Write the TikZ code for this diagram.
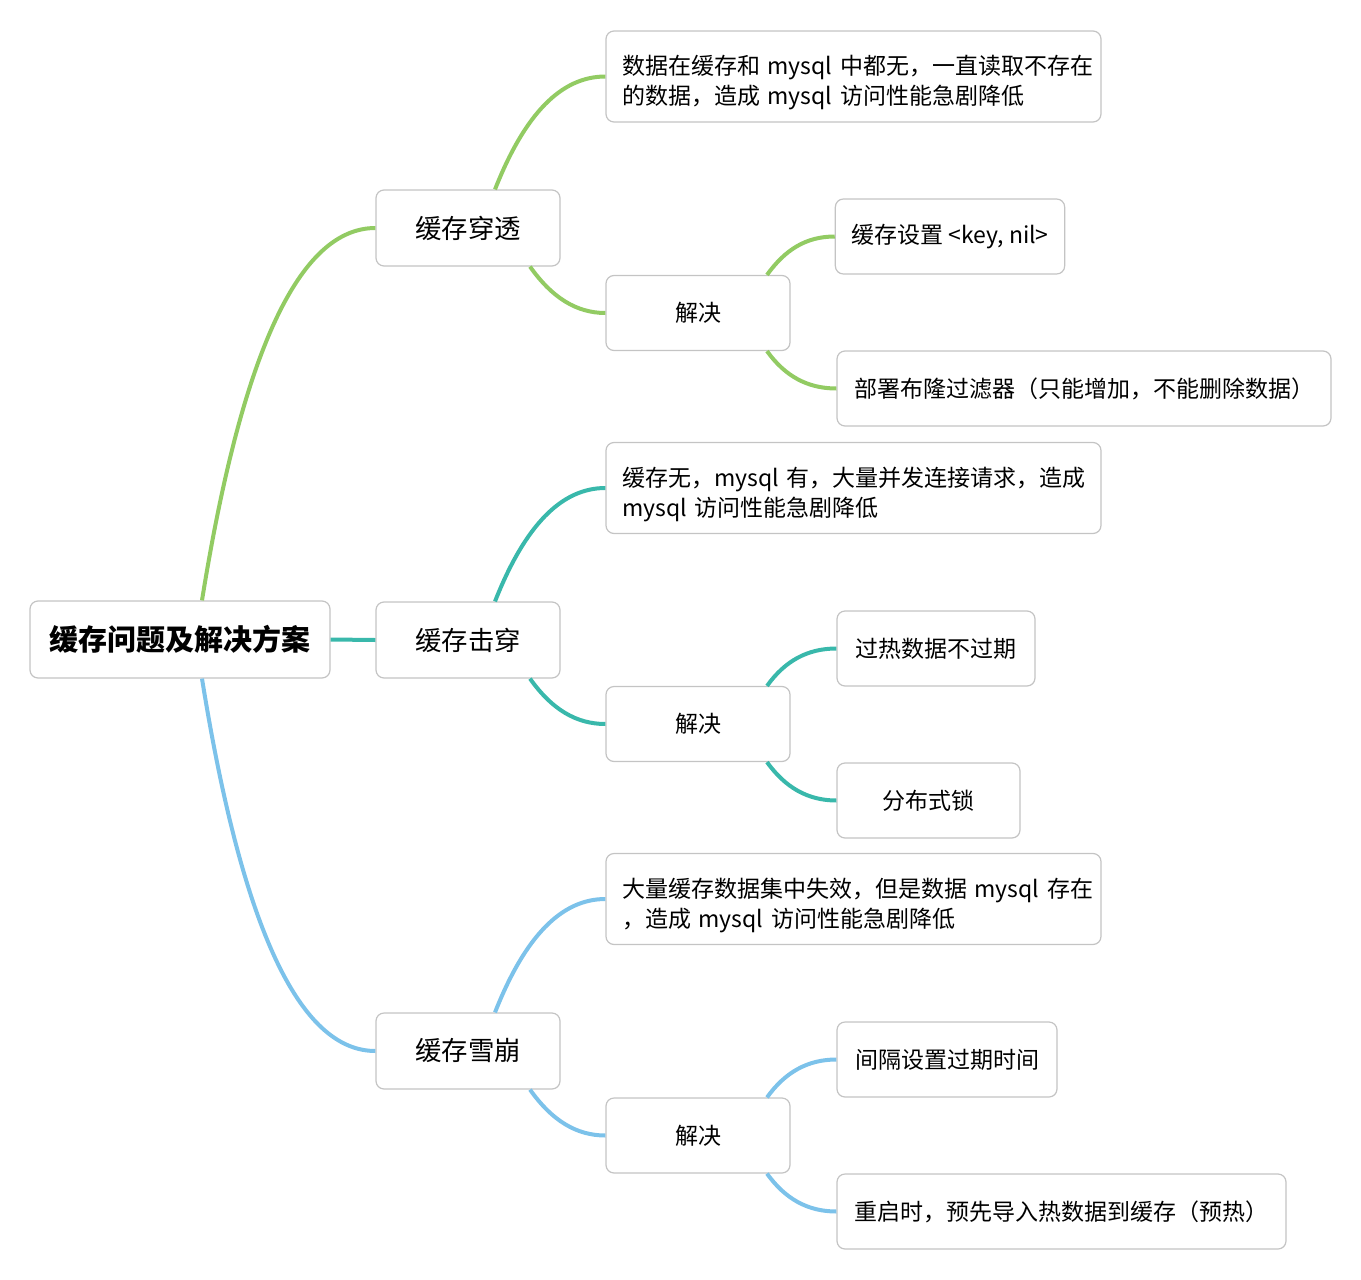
\documentclass[tikz,border=0pt]{standalone}
\usepackage{fontspec}
\setmainfont{Noto Sans CJK SC}
\usepackage{tikz}
\definecolor{cardline}{RGB}{196,196,196}
\definecolor{pengreen}{RGB}{146,203,99}
\definecolor{hitteal}{RGB}{57,184,171}
\definecolor{snowblue}{RGB}{124,194,234}
\newcommand{\firstline}[1]{\rule{0pt}{16pt}\mbox{#1}}

\begin{document}
\begin{tikzpicture}[
    x=0.5pt, y=-0.5pt,
    every node/.style={font=\fontsize{11.5}{15}\selectfont},
    card/.style={rectangle, draw=cardline, fill=white, line width=0.6pt, rounded corners=4pt, minimum width=#1, minimum height=37.5pt, inner xsep=8pt, inner ysep=0pt},
    card/.default=92pt,
    infobox/.style={card=247.5pt, minimum height=45.5pt, text width=231.5pt, align=left},
    topicbox/.style={card, minimum height=38pt, font=\fontsize{13.2}{15}\selectfont},
    rootbox/.style={card=150pt, minimum height=38.5pt, font=\fontsize{14.5}{16}\selectfont\bfseries},
    branch/.style={line width=2pt, draw=#1}
]
\useasboundingbox (0,0) rectangle (1361,1280);

\node[rootbox] (root) at (180,639.5) {缓存问题及解决方案};

\node[topicbox] (through) at (468,228) {缓存穿透};
\node[topicbox] (breakdown) at (468,640) {缓存击穿};
\node[topicbox] (avalanche) at (468,1051) {缓存雪崩};

\node[infobox] (throughInfo) at (853.5,76.5) {\firstline{数据在缓存和 mysql 中都无，一直读取不存在}\\\mbox{的数据，造成 mysql 访问性能急剧降低}};
\node[card] (throughFix) at (698,313) {解决};
\node[card=113pt] (nilKey) at (950,236.5) {缓存设置 <key, nil>};
\node[card=247pt] (bloom) at (1084,388.5) {部署布隆过滤器（只能增加，不能删除数据）};

\node[infobox] (breakdownInfo) at (853.5,488) {\firstline{缓存无，mysql 有，大量并发连接请求，造成}\\\mbox{mysql 访问性能急剧降低}};
\node[card] (breakdownFix) at (698,724) {解决};
\node[card=99pt] (hotKey) at (936,648.5) {过热数据不过期};
\node[card=91.5pt] (lock) at (928.5,800.5) {分布式锁};

\node[infobox] (avalancheInfo) at (853.5,899) {\firstline{大量缓存数据集中失效，但是数据 mysql 存在}\\\mbox{，造成 mysql 访问性能急剧降低}};
\node[card] (avalancheFix) at (698,1135.5) {解决};
\node[card=110pt] (spread) at (947,1059.5) {间隔设置过期时间};
\node[card=224.5pt] (warmup) at (1061.5,1211.5) {重启时，预先导入热数据到缓存（预热）};

\draw[branch=pengreen] ([xshift=11pt]root.north) .. controls +(40,-249) and +(-76,0) .. (through.west);
\draw[branch=hitteal] (root.east) -- (breakdown.west);
\draw[branch=snowblue] ([xshift=11pt]root.south) .. controls +(40,249) and +(-76,0) .. (avalanche.west);

\draw[branch=pengreen] ([xshift=13.5pt]through.north) .. controls +(30,-76) and +(-44,0) .. (throughInfo.west);
\draw[branch=pengreen] ([xshift=31pt]through.south) .. controls +(22,31) and +(-29,0) .. (throughFix.west);
\draw[branch=pengreen] ([xshift=34.5pt]throughFix.north) .. controls +(18,-25) and +(-29,0) .. (nilKey.west);
\draw[branch=pengreen] ([xshift=34.5pt]throughFix.south) .. controls +(18,25) and +(-29,0) .. (bloom.west);

\draw[branch=hitteal] ([xshift=13.5pt]breakdown.north) .. controls +(30,-76) and +(-44,0) .. (breakdownInfo.west);
\draw[branch=hitteal] ([xshift=31pt]breakdown.south) .. controls +(22,31) and +(-29,0) .. (breakdownFix.west);
\draw[branch=hitteal] ([xshift=34.5pt]breakdownFix.north) .. controls +(18,-25) and +(-29,0) .. (hotKey.west);
\draw[branch=hitteal] ([xshift=34.5pt]breakdownFix.south) .. controls +(18,25) and +(-29,0) .. (lock.west);

\draw[branch=snowblue] ([xshift=13.5pt]avalanche.north) .. controls +(30,-76) and +(-44,0) .. (avalancheInfo.west);
\draw[branch=snowblue] ([xshift=31pt]avalanche.south) .. controls +(22,31) and +(-29,0) .. (avalancheFix.west);
\draw[branch=snowblue] ([xshift=34.5pt]avalancheFix.north) .. controls +(18,-25) and +(-29,0) .. (spread.west);
\draw[branch=snowblue] ([xshift=34.5pt]avalancheFix.south) .. controls +(18,25) and +(-29,0) .. (warmup.west);

\end{tikzpicture}
\end{document}
